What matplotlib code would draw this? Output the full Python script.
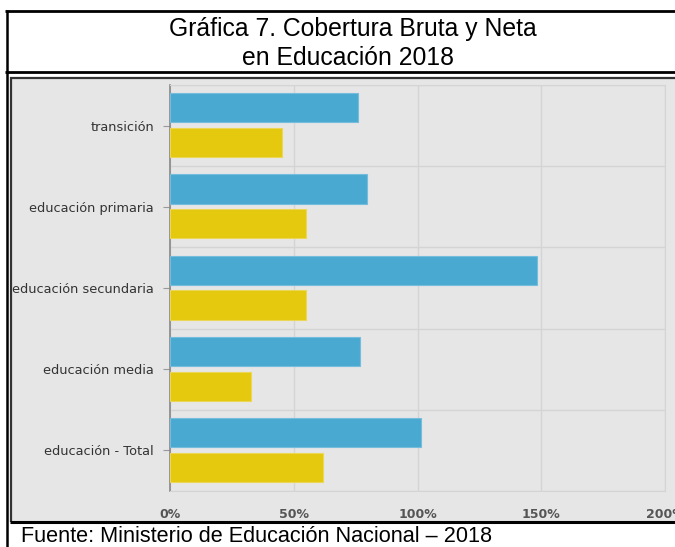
import numpy as np
import matplotlib as mpl
import matplotlib.pyplot as plt
from matplotlib.lines import Line2D
from matplotlib.patches import Rectangle
from matplotlib.ticker import FuncFormatter

categorias = ['transición', 'educación primaria', 'educación secundaria',
              'educación media', 'educación - Total']
cobertura_bruta = [75.8, 79.7, 148.3, 76.8, 101.3]
cobertura_neta = [45.4, 54.8, 54.8, 32.7, 62.0]
xticks = [0, 50, 100, 150, 200]

W, H = 675, 547
fig = plt.figure(figsize=(W/100, H/100), dpi=100)

def fx(x): return x/W
def fy(y): return 1 - y/H

# panel grey background (chart image)
fig.add_artist(Rectangle((fx(11), fy(522)), fx(675-11), (522-77)/H,
                         transform=fig.transFigure, facecolor='#e6e6e6',
                         edgecolor='none', zorder=0))

# table lines
def hline(y, x0, x1, lw, c='k'):
    fig.add_artist(Line2D([fx(x0), fx(x1)], [fy(y), fy(y)], transform=fig.transFigure,
                          color=c, lw=lw, solid_capstyle='butt'))
def vline(x, y0, y1, lw, c='k'):
    fig.add_artist(Line2D([fx(x), fx(x)], [fy(y0), fy(y1)], transform=fig.transFigure,
                          color=c, lw=lw, solid_capstyle='butt'))

hline(10.5, 5, 675, 2.0)
hline(72, 5, 675, 2.0)
vline(6.5, 10, 547, 1.8)
hline(77.5, 10, 675, 1.6, '#333333')
vline(10.8, 77, 522, 1.6, '#333333')
hline(522, 10, 675, 2.2)

fig.text(fx(353), fy(29), 'Gráfica 7. Cobertura Bruta y Neta', ha='center', va='center',
         family='Liberation Sans', fontsize=17.8)
fig.text(fx(348), fy(58), 'en Educación 2018', ha='center', va='center',
         family='Liberation Sans', fontsize=17.8)
fig.text(fx(21), fy(537), 'Fuente: Ministerio de Educación Nacional – 2018', ha='left', va='center',
         family='Liberation Sans', fontsize=15.6)

ax = fig.add_axes([fx(170), fy(491), fx(665-170), (491-85)/H])
ax.set_facecolor('#e6e6e6')

y = np.arange(len(categorias))
ax.barh(y - 0.22, cobertura_bruta, height=0.36, color='#4aa9d0',
        edgecolor='#74bddc', linewidth=0.8, zorder=3)
ax.barh(y + 0.21, cobertura_neta, height=0.36, color='#e4c90f',
        edgecolor='#ecd656', linewidth=0.8, zorder=3)

ax.set_xlim(0, 200)
ax.set_ylim(len(categorias) - 0.5, -0.5)
ax.set_yticks(y)
ax.set_yticklabels(categorias)
ax.set_yticks(np.arange(-0.5, len(categorias)), minor=True)
ax.set_xticks(xticks)
ax.xaxis.set_major_formatter(FuncFormatter(lambda v, p: '%d%%' % v))

ax.grid(which='minor', axis='y', color='#d4d4d4', lw=1.0, zorder=1)
ax.grid(which='major', axis='x', color='#d4d4d4', lw=1.0, zorder=1)
ax.tick_params(axis='y', which='minor', length=0)
ax.tick_params(axis='y', which='major', length=5, color='#999999', labelsize=9.3,
               labelcolor='#333333', pad=6.5)
ax.tick_params(axis='x', length=0, labelsize=9, labelcolor='#555555', pad=12)
for lab in ax.get_xticklabels():
    lab.set_fontweight('bold')

for s in ['top', 'right', 'bottom']:
    ax.spines[s].set_color('#d4d4d4')
ax.spines['left'].set_color('#888888')
ax.spines['left'].set_linewidth(1.2)

plt.savefig('out.png', dpi=100)
